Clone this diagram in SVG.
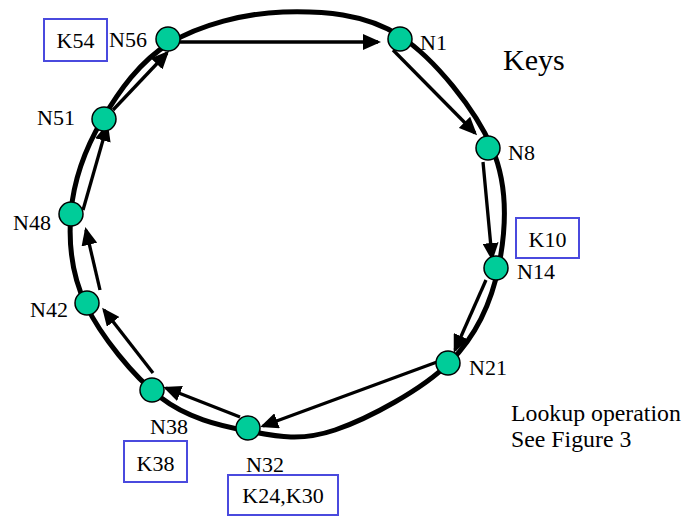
<svg xmlns="http://www.w3.org/2000/svg" width="685" height="517" viewBox="0 0 685 517">
<style>
.ring{fill:none;stroke:#000;stroke-width:5}
.arr{fill:none;stroke:#000;stroke-width:3.3;marker-end:url(#ah)}
.node{fill:#00CC99;stroke:#000;stroke-width:1.5}
.key{fill:#fff;stroke:#4a4ade;stroke-width:2}
text{font-family:"Liberation Serif","Times New Roman",Times,serif;fill:#000}
.lbl{font-size:22px}
.big{font-size:30px}
.note{font-size:23.8px}
</style>
<defs>
<marker id="ah" viewBox="0 0 18 16" refX="15" refY="8" markerWidth="18" markerHeight="16" markerUnits="userSpaceOnUse" orient="auto">
<path d="M0,0 L18,8 L0,16 Z" fill="#000"/>
</marker>
</defs>
<rect width="685" height="517" fill="#fff"/>
<g id="ring">
<path class="ring" d="M283,12 C321.3,10.8 365.2,13.3 400,36 C434.8,58.7 475.5,109.8 492,148 C508.5,186.2 506,229.3 499,265 C492,300.7 477.3,334.5 450,362 C422.7,389.5 368.7,418.5 335,430 C301.3,441.5 277.2,436.5 248,431 C218.8,425.5 187,418 160,397 C133,376 100.8,335.8 86,305 C71.2,274.2 68.3,242.8 71,212 C73.7,181.2 85.5,148.2 102,120 C118.5,91.8 139.8,61 170,43 C200.2,25 244.7,13.2 283,12 Z"/>
</g>
<g id="connectors">
<line class="arr" x1="180" y1="42" x2="378" y2="42"/>
<line class="arr" x1="393" y1="50" x2="475" y2="133"/>
<line class="arr" x1="483" y1="162" x2="492" y2="258"/>
<line class="arr" x1="486" y1="280" x2="455" y2="350"/>
<line class="arr" x1="437" y1="362" x2="263" y2="426"/>
<line class="arr" x1="240" y1="417" x2="166" y2="388"/>
<line class="arr" x1="153" y1="373" x2="104" y2="310"/>
<line class="arr" x1="100" y1="290" x2="86" y2="230"/>
<line class="arr" x1="83" y1="210" x2="107" y2="126"/>
<line class="arr" x1="113" y1="110" x2="167" y2="53"/>
</g>
<g id="N56"><circle class="node" cx="168" cy="39" r="12"/><text class="lbl" x="109" y="47">N56</text></g>
<g id="N1"><circle class="node" cx="400" cy="39" r="12"/><text class="lbl" x="420" y="50">N1</text></g>
<g id="N8"><circle class="node" cx="488" cy="148" r="12"/><text class="lbl" x="508" y="160">N8</text></g>
<g id="N14"><circle class="node" cx="496" cy="268" r="12"/><text class="lbl" x="517" y="279">N14</text></g>
<g id="N21"><circle class="node" cx="448" cy="363" r="12"/><text class="lbl" x="469" y="375">N21</text></g>
<g id="N32"><circle class="node" cx="248" cy="428" r="12"/><text class="lbl" x="246" y="472">N32</text></g>
<g id="N38"><circle class="node" cx="152" cy="390" r="12"/><text class="lbl" x="150" y="434">N38</text></g>
<g id="N42"><circle class="node" cx="87" cy="303" r="12"/><text class="lbl" x="30" y="317">N42</text></g>
<g id="N48"><circle class="node" cx="71" cy="214" r="12"/><text class="lbl" x="13" y="230">N48</text></g>
<g id="N51"><circle class="node" cx="104" cy="119" r="12"/><text class="lbl" x="37" y="125">N51</text></g>
<g id="K54"><rect class="key" x="44" y="19" width="63" height="42"/><text class="lbl" x="75.5" y="48" text-anchor="middle">K54</text></g>
<g id="K10"><rect class="key" x="516" y="218" width="63" height="40"/><text class="lbl" x="547.5" y="247" text-anchor="middle">K10</text></g>
<g id="K38"><rect class="key" x="124" y="441" width="63" height="41"/><text class="lbl" x="155.5" y="471" text-anchor="middle">K38</text></g>
<g id="K24K30"><rect class="key" x="228" y="475" width="110" height="40"/><text class="lbl" x="283" y="503" text-anchor="middle">K24,K30</text></g>
<text class="big" x="503" y="70">Keys</text>
<text class="note" x="511" y="421">Lookup operation</text>
<text class="note" x="511" y="447">See Figure 3</text>
</svg>
